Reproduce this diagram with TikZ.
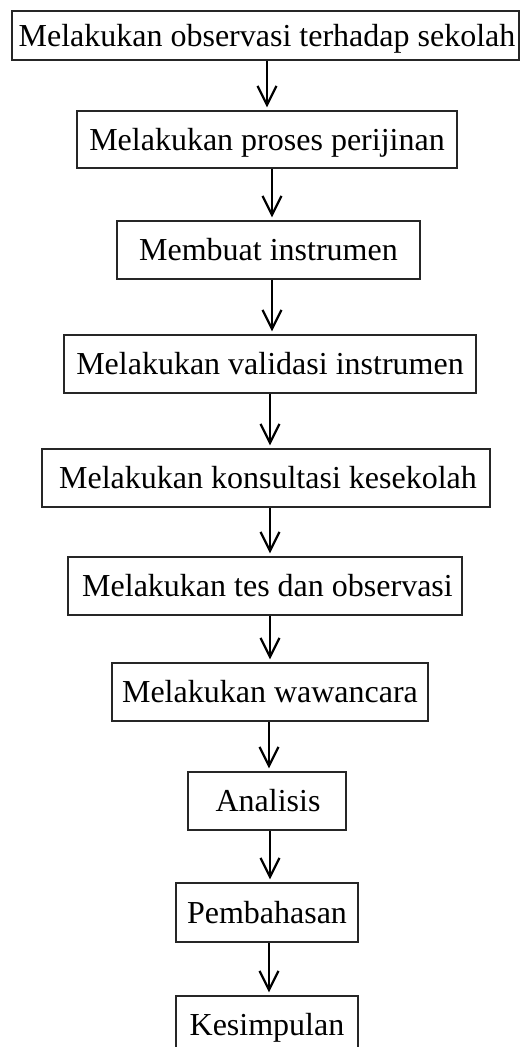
\documentclass[tikz,border=0pt]{standalone}
\usepackage{fontspec}
\setmainfont{Liberation Serif}
\usetikzlibrary{arrows.meta}
\tikzset{
  stepbox/.style={draw=black!85, line width=1.3pt, rectangle, inner sep=0pt,
    font=\fontsize{32}{38}\selectfont, text height=21pt, text depth=0pt},
  arr/.style={line width=2.2pt, -{Straight Barb[length=19pt,width=19pt]}, shorten >=3pt}
}
\newcommand{\bx}[6]{% name, x1, y1, x2, y2, text
  \node[stepbox, minimum width={#4-#2}, minimum height={#5-#3}] (#1) at ({(#2+#4)/2},{(#3+#5)/2}) {#6};}
\begin{document}
\begin{tikzpicture}[x=1pt,y=-1pt]
\useasboundingbox (0,0) rectangle (520,1047);
\clip (0,0) rectangle (520,1047);
\fill[white] (0,0) rectangle (520,1047);
\bx{b1}{12}{11}{519}{60}{\hspace*{3pt}Melakukan observasi terhadap sekolah}
\bx{b2}{77}{111}{457}{168}{Melakukan proses perijinan}
\bx{b3}{117}{221}{420}{279}{Membuat instrumen}
\bx{b4}{64}{335}{476}{393}{Melakukan validasi instrumen}
\bx{b5}{42}{449}{490}{507}{\hspace*{4pt}Melakukan konsultasi kesekolah}
\bx{b6}{68}{557}{462}{615}{\hspace*{5pt}Melakukan tes dan observasi}
\bx{b7}{112}{663}{428}{721}{Melakukan wawancara}
\bx{b8}{188}{772}{346}{830}{\hspace*{2pt}Analisis}
\bx{b9}{176}{883}{358}{942}{Pembahasan}
\bx{b10}{176}{996}{358}{1054}{Kesimpulan}
\draw[arr] (b1.south -| 267,0) -- (b2.north -| 267,0);
\draw[arr] (b2.south -| 272,0) -- (b3.north -| 272,0);
\draw[arr] (b3.south -| 272,0) -- (b4.north -| 272,0);
\draw[arr] (b4.south -| 270,0) -- (b5.north -| 270,0);
\draw[arr] (b5.south -| 270,0) -- (b6.north -| 270,0);
\draw[arr] (b6.south -| 270,0) -- (b7.north -| 270,0);
\draw[arr] (b7.south -| 269,0) -- (b8.north -| 269,0);
\draw[arr] (b8.south -| 270,0) -- (b9.north -| 270,0);
\draw[arr] (b9.south -| 269,0) -- (b10.north -| 269,0);
\end{tikzpicture}
\end{document}
